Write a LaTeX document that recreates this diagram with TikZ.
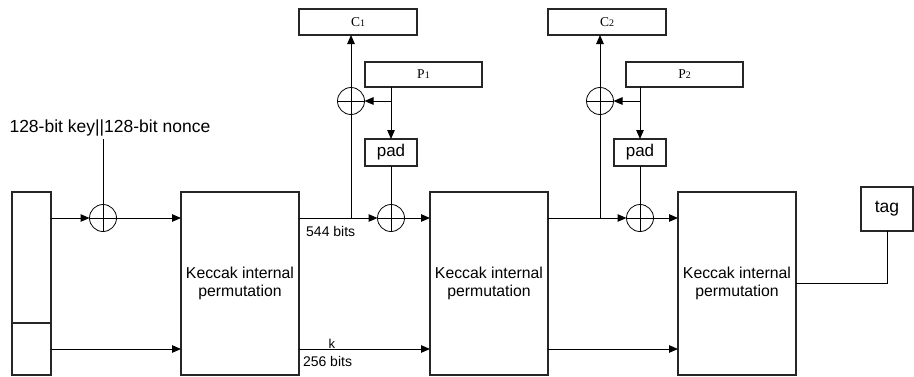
\documentclass[tikz,border=0pt]{standalone}
\usepackage{fontspec}
\setmainfont{Liberation Sans}
\newfontfamily\timesfont{Liberation Serif}
\usetikzlibrary{arrows.meta,calc,positioning}
\newcommand{\kfont}{\fontsize{15.8}{17.5}\selectfont}
\newcommand{\labfont}{\fontsize{14}{16}\selectfont}
\newcommand{\sub}[1]{{\fontsize{10}{12}\selectfont #1}}

\tikzset{
  blk/.style={draw=black!85, line width=1.2pt, inner sep=0pt, outer sep=0pt},
  xorop/.style={circle, draw, line width=0.8pt, minimum size=27pt, inner sep=0pt,
    outer sep=0pt, path picture={
      \draw[line width=0.8pt] (path picture bounding box.north) -- (path picture bounding box.south)
        (path picture bounding box.west) -- (path picture bounding box.east);}},
  wire/.style={line width=1pt},
  flow/.style={wire, -{Triangle[length=9pt,width=7.5pt]}},
}

\begin{document}
\begin{tikzpicture}[x=1pt,y=-1pt]
  \useasboundingbox (0,0) rectangle (914,376);

  % state
  \node[blk, minimum width=39pt, minimum height=183pt] (st) at (31.5,283.5) {};
  \draw[blk] (12,323) -- (51,323);

  % key and nonce
  \node[anchor=base west, font=\fontsize{17.5}{20}\selectfont] (key) at (6,132)
    {128-bit key||128-bit nonce};
  \node[xorop] (x0) at (103,218) {};

  % Keccak blocks
  \foreach \i/\x in {1/240, 2/489, 3/737} {
    \node[blk, minimum width=118pt, minimum height=183pt, align=center, font=\kfont]
      (k\i) at (\x,283.5) {Keccak internal\\permutation};
  }

  \draw[flow] (st.east |- x0) -- (x0);
  \draw[wire] (key.south -| x0) -- (x0);
  \draw[flow] (x0) -- (k1.west |- x0);
  \draw[flow] (st.east |- 0,349) -- (k1.west |- 0,349);
  \draw[flow] (k1.east |- 0,349) -- node[pos=0.25, above, inner sep=0.5pt, font=\fontsize{13}{15}\selectfont] {k}
    node[at start, below right, inner sep=1pt, xshift=2.5pt, yshift=-6pt, font=\labfont] {256 bits} (k2.west |- 0,349);
  \draw[flow] (k2.east |- 0,349) -- (k3.west |- 0,349);
  \node[below right, inner sep=1pt, xshift=6pt, yshift=-7.5pt, font=\labfont] at (k1.east |- x0) {544 bits};

  % absorbing stages
  \foreach \i/\j/\dx/\px in {1/2/0/0, 2/3/249/261} {
    \coordinate (br\i) at (351+\dx,218);
    \coordinate (pd\i) at (391+\dx,101);
    \node[xorop] (xa\i) at (351+\dx,101) {};
    \node[xorop] (xb\i) at (391+\dx,218) {};
    \node[blk, minimum width=118pt, minimum height=26pt, font=\timesfont\fontsize{13.5}{15}\selectfont]
      (c\i) at (358+\dx,22) {C\sub{\i}};
    \node[blk, minimum width=117pt, minimum height=25pt, font=\timesfont\fontsize{13.5}{15}\selectfont]
      (p\i) at (423.5+\px,74.5) {P\sub{\i}};
    \node[blk, minimum width=52pt, minimum height=27pt, font=\fontsize{17}{19}\selectfont]
      (pad\i) at (391+\dx,152.5) {pad};
    \draw[wire] (k\i.east |- br\i) -- (br\i);
    \draw[flow] (br\i) -- (xb\i);
    \draw[flow] (xb\i) -- (k\j.west |- xb\i);
    \draw[wire] (br\i) -- (xa\i);
    \draw[flow] (xa\i) -- (c\i.south -| xa\i);
    \draw[wire] (p\i.south -| pd\i) -- (pd\i);
    \draw[flow] (pd\i) -- (xa\i);
    \draw[flow] (pd\i) -- (pad\i);
    \draw[wire] (pad\i) -- (xb\i);
  }

  % tag
  \node[blk, minimum width=52pt, minimum height=44pt, font=\fontsize{17.5}{20}\selectfont]
    (tag) at (887,209) {tag};
  \draw[wire] (k3.east) -| (tag.south);
\end{tikzpicture}
\end{document}
